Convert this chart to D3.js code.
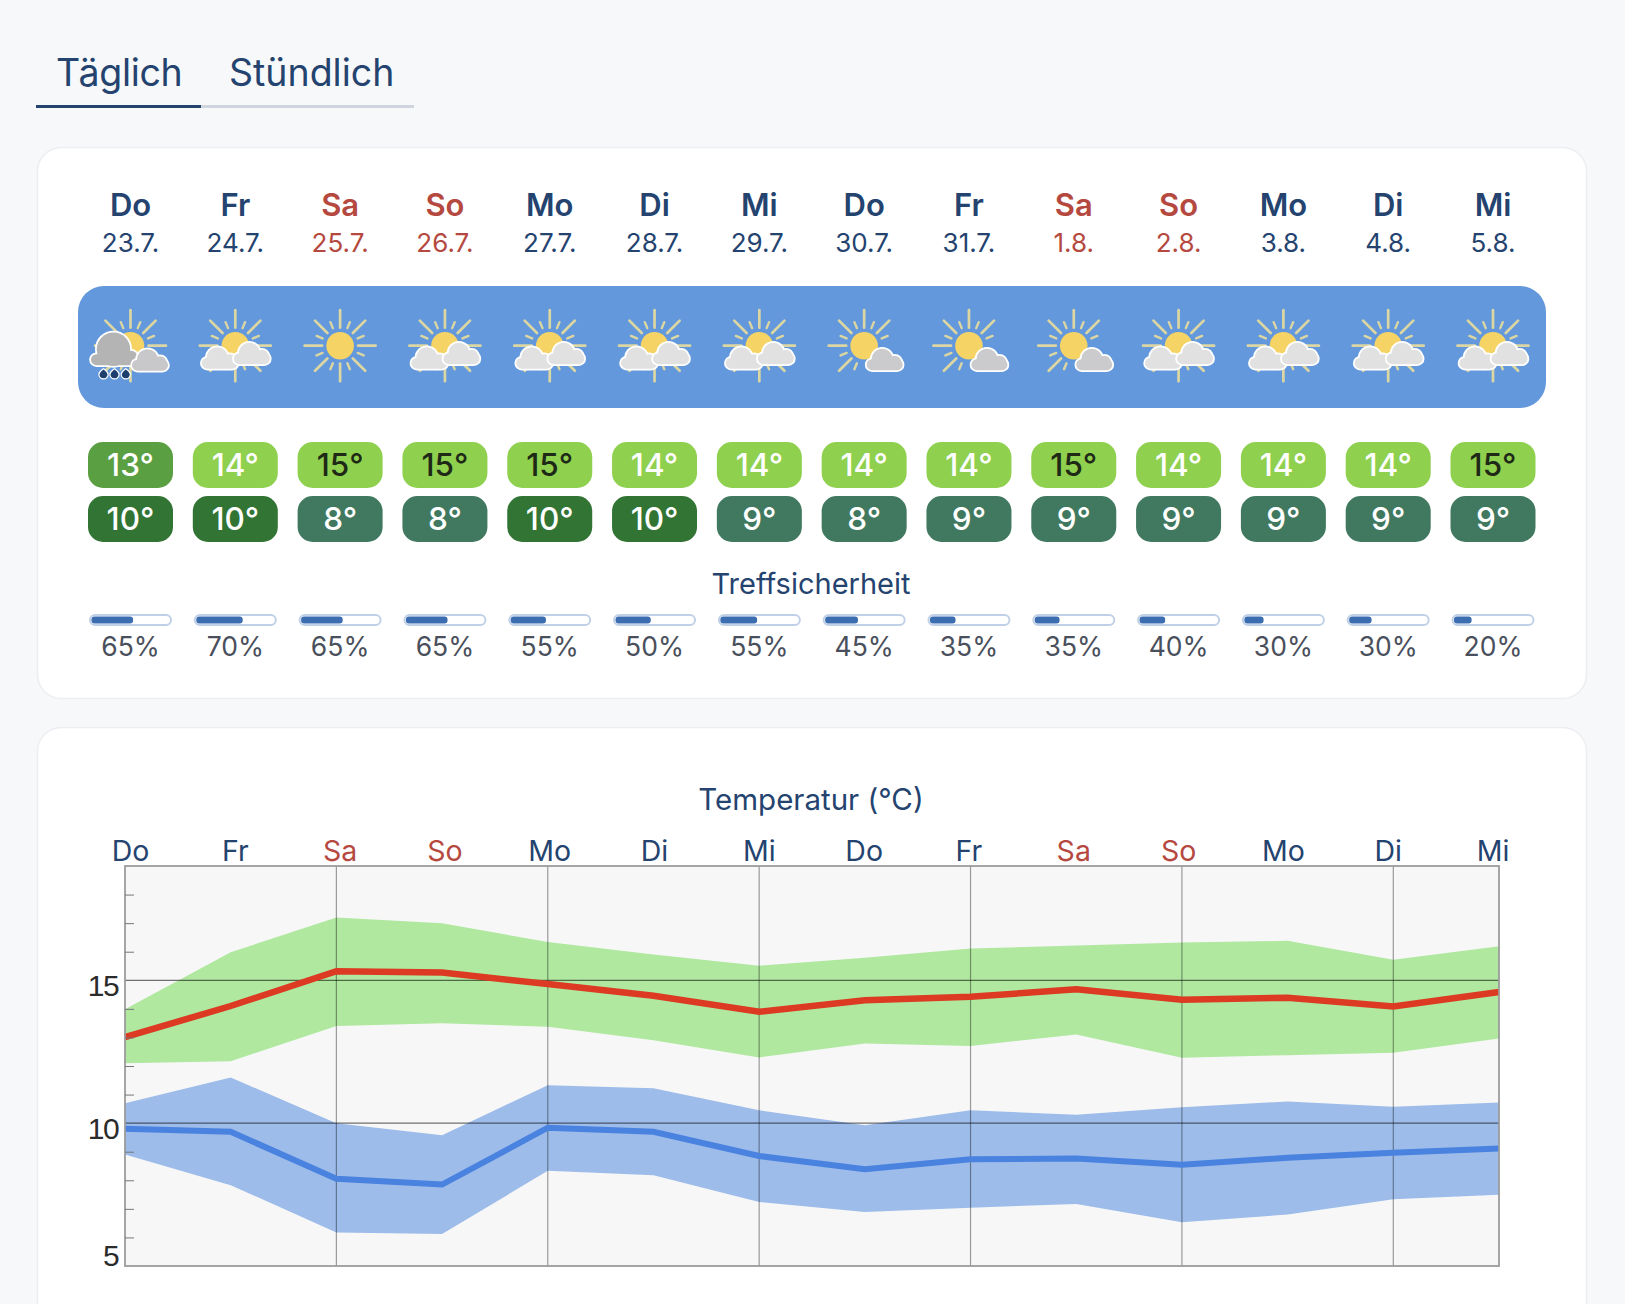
<!DOCTYPE html>
<html lang="de">
<head>
<meta charset="utf-8">
<title>Wetter</title>
<script src="https://cdn.jsdelivr.net/npm/d3@7"></script>
<style>
  html, body { margin: 0; padding: 0; background: #f7f8f9; }
  svg { display: block; font-family: Inter, "Noto Sans", sans-serif; }
</style>
</head>
<body>
<svg width="1625" height="1304" viewBox="0 0 1625 1304"></svg>
<script>
const days = ["Do", "Fr", "Sa", "So", "Mo", "Di", "Mi", "Do", "Fr", "Sa", "So", "Mo", "Di", "Mi"];
const dates = ["23.7.", "24.7.", "25.7.", "26.7.", "27.7.", "28.7.", "29.7.", "30.7.", "31.7.", "1.8.", "2.8.", "3.8.", "4.8.", "5.8."];
const icons = ["rain", "mixed", "sun", "mixed", "mixed", "mixed", "mixed", "partly", "partly", "partly", "mixed", "mixed", "mixed", "mixed"];
const highs = [13, 14, 15, 15, 15, 14, 14, 14, 14, 15, 14, 14, 14, 15];
const lows = [10, 10, 8, 8, 10, 10, 9, 8, 9, 9, 9, 9, 9, 9];
const accuracy = [65, 70, 65, 65, 55, 50, 55, 45, 35, 35, 40, 30, 30, 20];
// bar length in percent of the track, the bars do not follow the labels exactly
const accuracyBar = [52, 58, 52, 52, 44, 44, 46, 41, 32, 31, 32, 24, 28, 22];

const tempMax = [13.01, 14.1, 15.32, 15.27, 14.87, 14.46, 13.9, 14.3, 14.42, 14.69, 14.32, 14.39, 14.08, 14.59];
const tempMaxUp = [13.99, 15.98, 17.2, 17.0, 16.34, 15.9, 15.51, 15.79, 16.11, 16.22, 16.32, 16.38, 15.72, 16.19];
const tempMaxLo = [12.1, 12.17, 13.4, 13.5, 13.37, 12.9, 12.3, 12.79, 12.7, 13.1, 12.29, 12.38, 12.46, 12.96];
const tempMin = [9.8, 9.7, 8.05, 7.85, 9.84, 9.7, 8.85, 8.39, 8.74, 8.76, 8.54, 8.79, 8.96, 9.11];
const tempMinUp = [10.7, 11.6, 10, 9.58, 11.33, 11.22, 10.45, 9.93, 10.45, 10.29, 10.56, 10.76, 10.57, 10.72];
const tempMinLo = [8.9, 7.83, 6.17, 6.12, 8.33, 8.18, 7.24, 6.89, 7.04, 7.17, 6.53, 6.8, 7.34, 7.49];

const yMajor = [5, 10, 15];
const yMinor = [6, 7, 8, 9, 11, 12, 13, 14, 16, 17, 18];
const xGrid = [2, 4, 6, 8, 10, 12];

const navy = "#24436f", red = "#b5493f";
const isWeekend = d => d === "Sa" || d === "So";

const svg = d3.select("svg");

// page furniture
svg.append("text").attr("x", 56).attr("y", 86).attr("font-size", 37.5).attr("letter-spacing", -0.3).attr("fill", navy).text("Täglich");
svg.append("text").attr("x", 229).attr("y", 86).attr("font-size", 37.5).attr("fill", navy).text("Stündlich");
svg.append("rect").attr("x", 201).attr("y", 105).attr("width", 213).attr("height", 3).attr("fill", "#d0d4de");
svg.append("rect").attr("x", 36).attr("y", 105).attr("width", 165).attr("height", 3).attr("fill", navy);

[[37.5, 147.5, 1549, 551], [37.5, 727.5, 1549, 620]].forEach(c => {
  svg.append("rect")
    .attr("x", c[0]).attr("y", c[1]).attr("width", c[2]).attr("height", c[3]).attr("rx", 24)
    .attr("fill", "#fff").attr("stroke", "#eceef1").attr("stroke-width", 1.5);
});

const col = d3.scaleLinear().domain([0, days.length - 1]).range([130.5, 1493]);

// day header
const header = svg.append("g").selectAll("g").data(days).join("g")
  .attr("transform", (d, i) => `translate(${col(i)},0)`)
  .attr("text-anchor", "middle")
  .attr("fill", d => isWeekend(d) ? red : navy);
header.append("text").attr("y", 216).attr("font-size", 31).attr("font-weight", 600).text(d => d);
header.append("text").attr("y", 252).attr("font-size", 26).text((d, i) => dates[i]);

// weather symbols
svg.append("rect").attr("x", 78).attr("y", 286).attr("width", 1468).attr("height", 122).attr("rx", 26).attr("fill", "#6399dc");

const rayAngles = d3.range(8).map(k => k * 45);
const shortAngles = d3.range(8).map(k => 22.5 + k * 45);

function drawSun(g, hideFrom, hideTo) {
  const visible = a => hideFrom === undefined || a < hideFrom || a > hideTo;
  const ray = (a, r0, r1, w) => {
    const t = (a - 90) * Math.PI / 180;
    g.append("line")
      .attr("x1", r0 * Math.cos(t)).attr("y1", r0 * Math.sin(t))
      .attr("x2", r1 * Math.cos(t)).attr("y2", r1 * Math.sin(t))
      .attr("stroke", "#dcd6a2").attr("stroke-width", w).attr("stroke-linecap", "round");
  };
  rayAngles.filter(visible).forEach(a => ray(a, 18, 35.5, 2.7));
  shortAngles.filter(visible).forEach(a => ray(a, 19, 25.5, 2.4));
  g.append("circle").attr("r", 13.8).attr("fill", "#f6d365");
}

// cloud made of a base pill, a dome and a bump, outlined in white
function drawCloud(g, cx, bottom, fill, w, domeX, domeY, domeR) {
  const c = g.append("g").attr("transform", `translate(${cx},${bottom})`);
  const shapes = s => {
    s.append("rect").attr("x", -w / 2).attr("y", -11).attr("width", w).attr("height", 11).attr("rx", 5.5);
    s.append("circle").attr("cx", domeX).attr("cy", domeY).attr("r", domeR);
    s.append("circle").attr("cx", w / 2 - 8).attr("cy", -8).attr("r", 6.5);
  };
  shapes(c.append("g").attr("fill", "#fff").attr("stroke", "#fff").attr("stroke-width", 3.6));
  shapes(c.append("g").attr("fill", fill));
}

function drawDrop(g, x, y) {
  g.append("path")
    .attr("transform", `translate(${x},${y})`)
    .attr("d", "M0,-5 C2,-3.4 4.6,-2 4.6,0.6 A4.6,4.6 0 1 1 -4.6,0.6 C-4.6,-2 -2,-3.4 0,-5 Z")
    .attr("fill", "#1d3f6e").attr("stroke", "#fff").attr("stroke-width", 1.2);
}

svg.append("g").selectAll("g").data(icons).join("g")
  .attr("transform", (d, i) => `translate(${col(i)},345.7)`)
  .each(function (d) {
    const g = d3.select(this);
    if (d === "sun") {
      drawSun(g);
    } else if (d === "mixed") {
      drawSun(g);
      drawCloud(g, -15.5, 23, "#e1e1e1", 36, -2.5, -11, 10.5);
      drawCloud(g, 16.5, 18.5, "#e1e1e1", 36, -2.5, -11, 10.5);
    } else if (d === "partly") {
      drawSun(g, 80, 190);
      drawCloud(g, 20.5, 24.5, "#cbcbcd", 36, -2.5, -11, 10.5);
    } else if (d === "rain") {
      drawSun(g);
      drawCloud(g, -15.5, 19.5, "#b4b4b4", 48, -1.5, -16, 16.7);
      [-27, -16, -4.7].forEach(x => drawDrop(g, x, 28));
      drawCloud(g, 19.5, 25, "#c8c8ca", 36, -2.5, -11, 10.5);
    }
  });

// temperature pills
const highFill = d => d === 13 ? "#5a9f42" : "#8fd04f";
const lowFill = d => d === 10 ? "#317434" : "#40795f";

function drawPills(values, top, fill, ink) {
  const g = svg.append("g").selectAll("g").data(values).join("g")
    .attr("transform", (d, i) => `translate(${col(i)},${top})`);
  g.append("rect").attr("x", -42.5).attr("width", 85).attr("height", 46).attr("rx", 15).attr("fill", fill);
  g.append("text")
    .attr("y", 34).attr("text-anchor", "middle").attr("font-size", 31.5).attr("font-weight", 500)
    .attr("fill", ink).text(d => d + "°");
}
drawPills(highs, 442, highFill, d => d === 15 ? "#1e2a16" : "#fff");
drawPills(lows, 496, lowFill, () => "#fff");

// accuracy
svg.append("text").attr("x", 811).attr("y", 594).attr("text-anchor", "middle")
  .attr("font-size", 29).attr("fill", navy).text("Treffsicherheit");

const barScale = d3.scaleLinear().domain([0, 100]).range([0, 80]);
const acc = svg.append("g").selectAll("g").data(accuracy).join("g")
  .attr("transform", (d, i) => `translate(${col(i)},0)`);
acc.append("rect").attr("x", -40.5).attr("y", 615).attr("width", 81).attr("height", 10).attr("rx", 5)
  .attr("fill", "#fff").attr("stroke", "#c0d0e6").attr("stroke-width", 2);
acc.append("rect").attr("x", -39).attr("y", 616.5).attr("width", (d, i) => barScale(accuracyBar[i])).attr("height", 7).attr("rx", 3)
  .attr("fill", "#3b6db0");
acc.append("text").attr("y", 656).attr("text-anchor", "middle").attr("font-size", 26.5).attr("fill", "#4a4f5c").text(d => d + "%");

// temperature chart
svg.append("text").attr("x", 811).attr("y", 810).attr("text-anchor", "middle")
  .attr("font-size", 29.5).attr("fill", navy).text("Temperatur (°C)");

svg.append("g").selectAll("text").data(days).join("text")
  .attr("x", (d, i) => col(i)).attr("y", 861).attr("text-anchor", "middle")
  .attr("font-size", 28.5).attr("fill", d => isWeekend(d) ? red : navy).text(d => d);

const x = d3.scaleLinear().domain([0, days.length - 1]).range([125, 1499]);
const y = d3.scaleLinear().domain([5, 19]).range([1266, 866]);

svg.append("rect")
  .attr("x", x(0)).attr("y", y(19)).attr("width", x(13) - x(0)).attr("height", y(5) - y(19))
  .attr("fill", "#f7f7f7");

const band = (up, lo) => d3.area().x((d, i) => x(i)).y0((d, i) => y(lo[i])).y1(d => y(d))(up);
const line = d3.line().x((d, i) => x(i)).y(d => y(d));

svg.append("path").attr("d", band(tempMaxUp, tempMaxLo)).attr("fill", "#b0e8a0");
svg.append("path").attr("d", band(tempMinUp, tempMinLo)).attr("fill", "#9dbcea");

// grid sits on top of the bands
const grid = svg.append("g");
grid.selectAll("line.v").data(xGrid).join("line").attr("class", "v")
  .attr("x1", d => x(d)).attr("x2", d => x(d)).attr("y1", y(19)).attr("y2", y(5))
  .attr("stroke", "#000").attr("stroke-opacity", 0.38).attr("stroke-width", 1.2);
grid.selectAll("line.h").data([10, 15]).join("line").attr("class", "h")
  .attr("x1", x(0)).attr("x2", x(13)).attr("y1", d => y(d)).attr("y2", d => y(d))
  .attr("stroke", "#000").attr("stroke-opacity", 0.55).attr("stroke-width", 1.2);

svg.append("path").attr("d", line(tempMax)).attr("fill", "none").attr("stroke", "#dc3a22").attr("stroke-width", 6.5);
svg.append("path").attr("d", line(tempMin)).attr("fill", "none").attr("stroke", "#4a82df").attr("stroke-width", 6);

svg.append("rect")
  .attr("x", x(0)).attr("y", y(19)).attr("width", x(13) - x(0)).attr("height", y(5) - y(19))
  .attr("fill", "none").attr("stroke", "#9c9c9c").attr("stroke-width", 1.8);

const minorAxis = svg.append("g")
  .attr("transform", `translate(${x(0)},0)`)
  .call(d3.axisRight(y).tickValues(yMinor).tickSize(9).tickFormat(""));
minorAxis.select(".domain").remove();
minorAxis.selectAll("line").attr("stroke", "#777");

const majorAxis = svg.append("g")
  .attr("transform", `translate(${x(0)},0)`)
  .call(d3.axisLeft(y).tickValues(yMajor).tickSize(0).tickPadding(7));
majorAxis.select(".domain").remove();
majorAxis.selectAll("text")
  .attr("font-family", "'Liberation Sans', Arial, sans-serif")
  .attr("font-size", 30).attr("letter-spacing", -1.6).attr("fill", "#2b2b2b")
  .attr("dy", null)
  .attr("y", d => d === 5 ? -0.3 : 15.7);
</script>
</body>
</html>
